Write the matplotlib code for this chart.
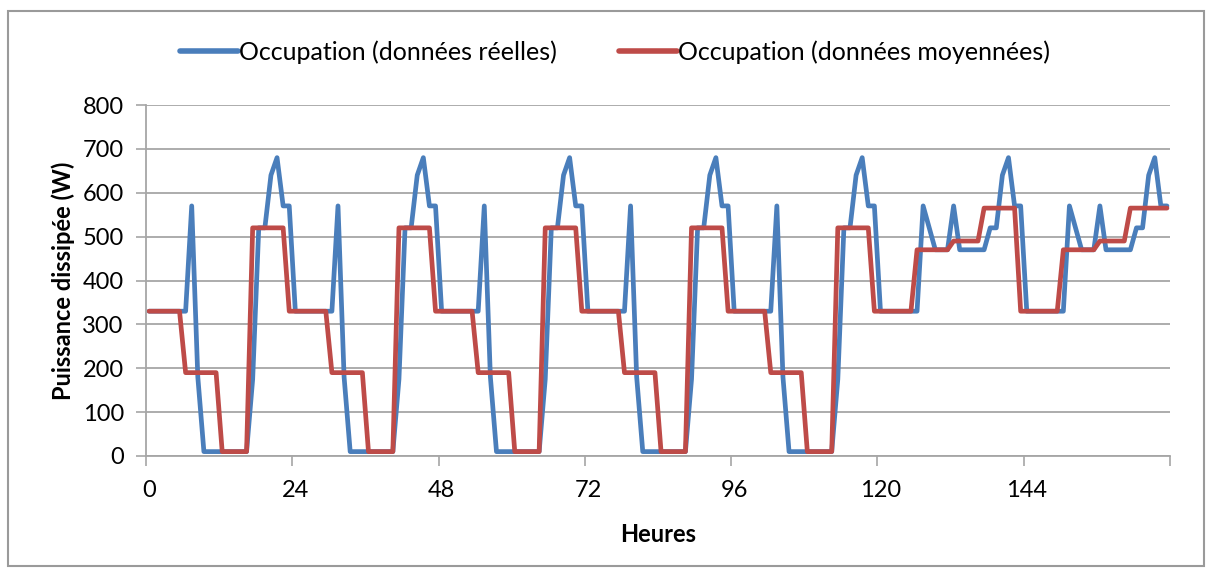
import numpy as np
import matplotlib
matplotlib.use('Agg')
import matplotlib.pyplot as plt
from matplotlib.patches import Rectangle

plt.rcParams['font.family'] = ['Lato', 'DejaVu Sans']

# Hourly values (one week, 168 hours)
weekday_real = [330, 330, 330, 330, 330, 330, 330, 570, 180, 10, 10, 10,
                10, 10, 10, 10, 10, 175, 520, 520, 640, 680, 570, 570]
weekend_real = [330, 330, 330, 330, 330, 330, 330, 570, 520, 470, 470, 470,
                570, 470, 470, 470, 470, 470, 520, 520, 640, 680, 570, 570]
weekday_mean = [330, 330, 330, 330, 330, 330, 190, 190, 190, 190, 190, 190,
                10, 10, 10, 10, 10, 520, 520, 520, 520, 520, 520, 330]
saturday_mean = [330, 330, 330, 330, 330, 330, 470, 470, 470, 470, 470, 470,
                 490, 490, 490, 490, 490, 565, 565, 565, 565, 565, 565, 330]
sunday_mean = [330, 330, 330, 330, 330, 330, 470, 470, 470, 470, 470, 470,
               490, 490, 490, 490, 490, 565, 565, 565, 565, 565, 565, 565]

real = weekday_real * 5 + weekend_real * 2
mean = weekday_mean * 5 + saturday_mean + sunday_mean
hours = np.arange(len(real)) + 0.5

label_real = "Occupation (données réelles)"
label_mean = "Occupation (données moyennées)"

W, H = 1213, 571
fig = plt.figure(figsize=(W / 100, H / 100), dpi=100)
ax = fig.add_axes([146 / W, 1 - 456 / H, (1170 - 146) / W, (456 - 105) / H])

ax.plot(hours, real, color='#4A7EBB', lw=3.4, label=label_real,
        solid_joinstyle='round', solid_capstyle='round')
ax.plot(hours, mean, color='#BE4B48', lw=3.4, label=label_mean,
        solid_joinstyle='round', solid_capstyle='round')

ax.set_xlim(0, 168)
ax.set_ylim(0, 800)
ax.set_yticks(np.arange(0, 801, 100))
ax.yaxis.grid(True, color='#A6A6A6', lw=1.3)
ax.set_axisbelow(True)

ax.set_xticks(np.arange(0, 169, 24))
ax.set_xticklabels([])
ax.set_xticks(np.arange(0.5, 145, 24), minor=True)
ax.set_xticklabels([str(v) for v in range(0, 145, 24)], minor=True)
ax.tick_params(axis='x', which='major', length=7, width=1.2, color='#A6A6A6', direction='out')
ax.tick_params(axis='x', which='minor', length=0, pad=17, labelsize=17)
ax.tick_params(axis='y', length=7, width=1.2, color='#A6A6A6', pad=9, labelsize=17)

for side in ['top', 'right']:
    ax.spines[side].set_visible(False)
for side in ['left', 'bottom']:
    ax.spines[side].set_color('#A6A6A6')
    ax.spines[side].set_linewidth(1.3)

ax.set_xlabel("Heures", fontsize=17, fontweight='bold', labelpad=16)
ax.set_ylabel("Puissance dissipée (W)", fontsize=17, fontweight='bold', labelpad=5)

leg = fig.legend(loc='center', bbox_to_anchor=(615 / W, 1 - 52 / H), ncol=2, frameon=False,
                 fontsize=18, handlelength=2.3, handletextpad=0.05, columnspacing=2.5)
for line in leg.get_lines():
    line.set_linewidth(4.0)

fig.patches.append(Rectangle((8 / W, 1 - 566 / H), (1204 - 8) / W, (566 - 11) / H,
                             transform=fig.transFigure, fill=False,
                             edgecolor='#9A9A9A', lw=1.5))

fig.savefig('out.png', dpi=100)
